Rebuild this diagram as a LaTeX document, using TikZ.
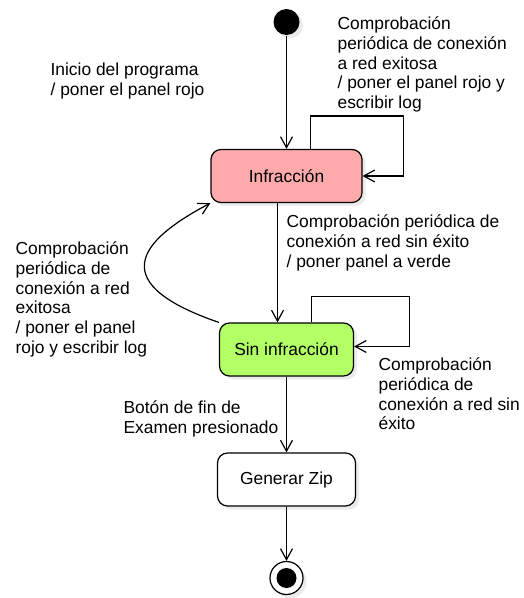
\documentclass[tikz,border=0pt]{standalone}
\usepackage{fontspec}
\setmainfont{Liberation Sans}
\usetikzlibrary{arrows.meta,shadows}
\definecolor{rojo}{HTML}{FFAAAA}
\definecolor{verde}{HTML}{B3FF66}

\begin{document}
\begin{tikzpicture}[x=1pt,y=-1pt,line width=1.2pt,
   >={Straight Barb[length=11pt,width=12pt]},
   every node/.style={font=\fontsize{17.4}{19.8}\selectfont},
   sombra/.style={drop shadow={shadow xshift=3.5pt,shadow yshift=-3.5pt,fill=black!8,opacity=1}},
   estado/.style={draw,rounded corners=10pt,minimum height=53pt,sombra},
   texto/.style={align=left,anchor=north west,inner sep=0pt}]
   \useasboundingbox (0,0) rectangle (523,598);

   \node[circle,fill=black,minimum size=26pt,inner sep=0pt,sombra] (ini) at (286.5,22) {};
   \node[estado,fill=rojo,minimum width=151pt] (inf) at (286.5,176) {Infracción};
   \node[estado,fill=verde,minimum width=134pt] (sin) at (286.5,349.5) {Sin infracción};
   \node[estado,fill=white,minimum width=138pt] (zip) at (286.5,479.5) {Generar Zip};
   \node[circle,draw,fill=white,minimum size=33pt,inner sep=0pt,sombra] (fin) at (286.5,578) {};
   \node[circle,fill=black,minimum size=20pt,inner sep=0pt] (finc) at (fin) {};

   \node[texto] (lblini) at (50,62) {Inicio del programa\\/ poner el panel rojo};
   \node[texto] (lblinf) at (337,16) {Comprobación\\periódica de conexión\\a red exitosa\\/ poner el panel rojo y\\escribir log};
   \node[texto] (lblverde) at (286,214) {Comprobación periódica de\\conexión a red sin éxito\\/ poner panel a verde};
   \node[texto] (lblrojo) at (15,241) {Comprobación\\periódica de\\conexión a red\\exitosa\\/ poner el panel\\rojo y escribir log};
   \node[texto] (lblsin) at (378,357) {Comprobación\\periódica de\\conexión a red sin\\éxito};
   \node[texto] (lblfin) at (123,400) {Botón de fin de\\Examen presionado};

   \draw[->] (ini) -- (inf);
   \draw[->] ([xshift=24pt]inf.north) |- ([xshift=41pt,yshift=33pt]inf.north east) |- (inf.east);
   \draw[->] ([xshift=-9pt]inf.south) -- ([xshift=-9pt]sin.north);
   \draw[->] (sin.north west) .. controls (95,280) and (150,235) .. (inf.south west);
   \draw[->] ([xshift=25pt]sin.north) |- ([xshift=55pt,yshift=26pt]sin.north east) |- ([yshift=3pt]sin.east);
   \draw[->] (sin) -- (zip);
   \draw[->] (zip) -- (fin);
\end{tikzpicture}
\end{document}
